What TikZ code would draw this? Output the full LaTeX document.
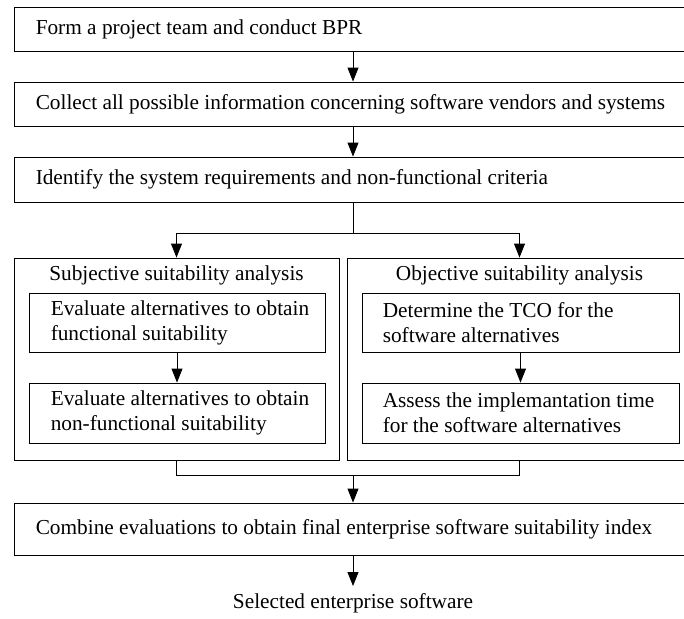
\documentclass[tikz,border=0pt]{standalone}
\usepackage{fontspec}
\setmainfont{Liberation Serif}
\usetikzlibrary{arrows.meta,calc}
\begin{document}
\begin{tikzpicture}[x=1pt,y=-1pt,
  box/.style={draw, line width=0.9pt, inner sep=0pt},
  lbl/.style={font=\fontsize{21.3pt}{25pt}\selectfont, inner sep=0pt, align=left, anchor=west},
  ttl/.style={font=\fontsize{21.3pt}{25pt}\selectfont, inner sep=0pt},
  arr/.style={line width=0.9pt, -{Triangle[width=11pt,length=14pt]}},
  ln/.style={line width=0.9pt}]
\useasboundingbox (0,0) rectangle (684,618);
% wide boxes
\node[box, minimum width=678pt, minimum height=44pt] (b1) at (353,29) {};
\node[lbl] (t1) at ([xshift=22pt]b1.west) {Form a project team and conduct BPR};
\node[box, minimum width=678pt, minimum height=44pt] (b2) at (353,104) {};
\node[lbl] (t2) at ([xshift=22pt]b2.west) {Collect all possible information concerning software vendors and systems};
\node[box, minimum width=678pt, minimum height=45pt] (b3) at (353,179.5) {};
\node[lbl] (t3) at ([xshift=22pt]b3.west) {Identify the system requirements and non-functional criteria};
% panels
\node[box, minimum width=325pt, minimum height=202pt] (lp) at (176.5,359) {};
\node[box, minimum width=345pt, minimum height=202pt] (rp) at (519.5,359) {};
\node[ttl] (lpt) at (176.5,275) {Subjective suitability analysis};
\node[ttl] (rpt) at (519.5,275) {Objective suitability analysis};
% inner boxes
\node[box, minimum width=296pt, minimum height=59pt] (le1) at (177,322.5) {};
\node[lbl] (le1t) at ([xshift=22pt]le1.west) {Evaluate alternatives to obtain\\functional suitability};
\node[box, minimum width=296pt, minimum height=60pt] (le2) at (177,413) {};
\node[lbl] (le2t) at ([xshift=22pt]le2.west) {Evaluate alternatives to obtain\\non-functional suitability};
\node[box, minimum width=317pt, minimum height=59pt] (re1) at (520.5,322.5) {};
\node[lbl] (re1t) at ([xshift=21pt]re1.west) {Determine the TCO for the\\software alternatives};
\node[box, minimum width=317pt, minimum height=60pt] (re2) at (520.5,413) {};
\node[lbl] (re2t) at ([xshift=21pt]re2.west) {Assess the implemantation time\\for the software alternatives};
% combine
\node[box, minimum width=678pt, minimum height=52pt] (b4) at (353,529) {};
\node[lbl] (t4) at ([xshift=22pt]b4.west) {Combine evaluations to obtain final enterprise software suitability index};
\node[ttl, anchor=north, inner ysep=7pt] (sel) at (353,586) {Selected enterprise software};
% connectors
\coordinate (sp) at (353,233);
\coordinate (jn) at (353,475);
\draw[arr] (b1.south) -- (b2.north);
\draw[arr] (b2.south) -- (b3.north);
\draw[ln] (b3.south) -- (sp);
\draw[arr] (sp) -| (lp.north);
\draw[arr] (sp) -| (rp.north);
\draw[arr] (le1.south) -- (le2.north);
\draw[arr] (re1.south) -- (re2.north);
\draw[ln] (lp.south) |- (jn);
\draw[ln] (rp.south) |- (jn);
\draw[arr] (jn) -- (b4.north);
\draw[arr] (b4.south) -- (sel.north);
\end{tikzpicture}
\end{document}
